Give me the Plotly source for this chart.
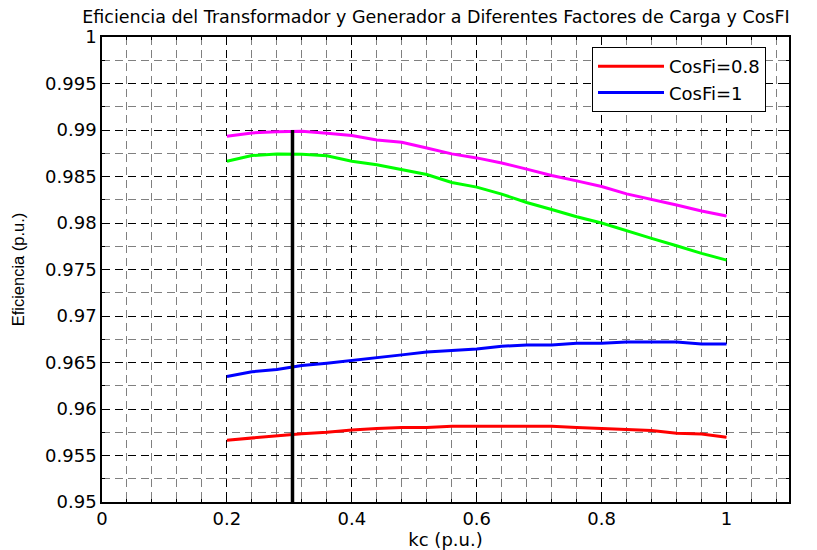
import plotly.graph_objects as go

kc = [0.20, 0.24, 0.28, 0.32, 0.36, 0.40, 0.44, 0.48, 0.52, 0.56, 0.60,
      0.64, 0.68, 0.72, 0.76, 0.80, 0.84, 0.88, 0.92, 0.96, 1.00]

ef_red = [0.95665, 0.9569, 0.9571, 0.95735, 0.9575, 0.95775, 0.9579, 0.9580, 0.9580,
          0.95815, 0.95815, 0.95815, 0.95815, 0.95815, 0.9580, 0.9579, 0.9578, 0.9577,
          0.9574, 0.9573, 0.95695]
ef_blue = [0.9635, 0.9640, 0.96425, 0.96468, 0.96493, 0.96521, 0.9655, 0.96582, 0.96614,
           0.96629, 0.96645, 0.96675, 0.96689, 0.96689, 0.96707, 0.96707, 0.9672, 0.9672,
           0.9672, 0.967, 0.967]
ef_magenta = [0.98932, 0.98968, 0.98982, 0.98986, 0.98964, 0.9894, 0.98893, 0.98868,
              0.98807, 0.98743, 0.987, 0.98645, 0.98579, 0.98511, 0.98453, 0.98392,
              0.98313, 0.98255, 0.98194, 0.98129, 0.98076]
ef_green = [0.98664, 0.98725, 0.98743, 0.98738, 0.98722, 0.98664, 0.98627, 0.98571,
            0.98521, 0.98435, 0.98386, 0.9831, 0.9822, 0.98145, 0.98068, 0.9800,
            0.97914, 0.97835, 0.97755, 0.97673, 0.97601]

vline_x = [0.305, 0.305]
vline_y = [0.95, 0.99]

names = ["CosFi=0.8", "CosFi=1"]

fig = go.Figure()
fig.add_trace(go.Scatter(x=kc, y=ef_red, mode="lines", name=names[0],
                         line=dict(color="#FF0000", width=3)))
fig.add_trace(go.Scatter(x=kc, y=ef_blue, mode="lines", name=names[1],
                         line=dict(color="#0000FF", width=3)))
fig.add_trace(go.Scatter(x=kc, y=ef_magenta, mode="lines", showlegend=False,
                         line=dict(color="#FF00FF", width=3)))
fig.add_trace(go.Scatter(x=kc, y=ef_green, mode="lines", showlegend=False,
                         line=dict(color="#00FF00", width=3)))
fig.add_trace(go.Scatter(x=vline_x, y=vline_y, mode="lines", showlegend=False,
                         line=dict(color="#000000", width=3.5)))

font_h = "DejaVu Sans"

# The page body adds an 8px offset; margins compensate for it.
fig.update_layout(
    width=817, height=550,
    margin=dict(l=94, r=36, t=29, b=56, autoexpand=False),
    paper_bgcolor="white", plot_bgcolor="white",
    title=dict(text="Eficiencia del Transformador y Generador a Diferentes Factores de Carga y CosFI",
               x=428 / 817, xanchor="center", y=1 - 9 / 550, yanchor="middle",
               yref="container", xref="container", automargin=False,
               font=dict(family=font_h, size=17.5, color="black")),
    legend=dict(x=(592 - 102) / 687, y=1 - (47 - 37) / 465, xanchor="left", yanchor="top",
                bgcolor="white", bordercolor="black", borderwidth=1,
                font=dict(family=font_h, size=18, color="black"),
                tracegroupgap=0, itemwidth=66),
    showlegend=True,
)

grid_major = dict(showgrid=True, gridcolor="black", gridwidth=1, griddash="8px,5px")

fig.update_xaxes(
    range=[0, 1.1], tickvals=[0, 0.2, 0.4, 0.6, 0.8, 1.0],
    ticktext=["0", "0.2", "0.4", "0.6", "0.8", "1"],
    **grid_major,
    minor=dict(dtick=0.04, tick0=0, showgrid=True, gridcolor="#808080",
               gridwidth=1, griddash="8px,5px", ticks="inside", ticklen=3),
    showline=True, linecolor="black", linewidth=1.5, mirror="ticks",
    ticks="inside", ticklen=6, tickcolor="black",
    tickfont=dict(family=font_h, size=18, color="black"),
    title=dict(text="kc (p.u.)", font=dict(family=font_h, size=18, color="black"),
               standoff=5),
    zeroline=False, automargin=False,
)
fig.update_yaxes(
    range=[0.95, 1.0], tickvals=[0.95, 0.955, 0.96, 0.965, 0.97, 0.975, 0.98, 0.985, 0.99, 0.995, 1.0],
    ticktext=["0.95", "0.955", "0.96", "0.965", "0.97", "0.975", "0.98", "0.985", "0.99", "0.995", "1"],
    **grid_major,
    minor=dict(dtick=0.0025, tick0=0.95, showgrid=True, gridcolor="#808080",
               gridwidth=1, griddash="8px,5px", ticks="inside", ticklen=3),
    showline=True, linecolor="black", linewidth=1.5, mirror="ticks",
    ticks="inside", ticklen=6, tickcolor="black",
    tickfont=dict(family=font_h, size=18, color="black"),
    title=dict(text="Eficiencia (p.u.)", font=dict(family="Liberation Sans", size=16.5, color="black"),
               standoff=16),
    zeroline=False, automargin=False,
)

fig.write_html("out.html")
